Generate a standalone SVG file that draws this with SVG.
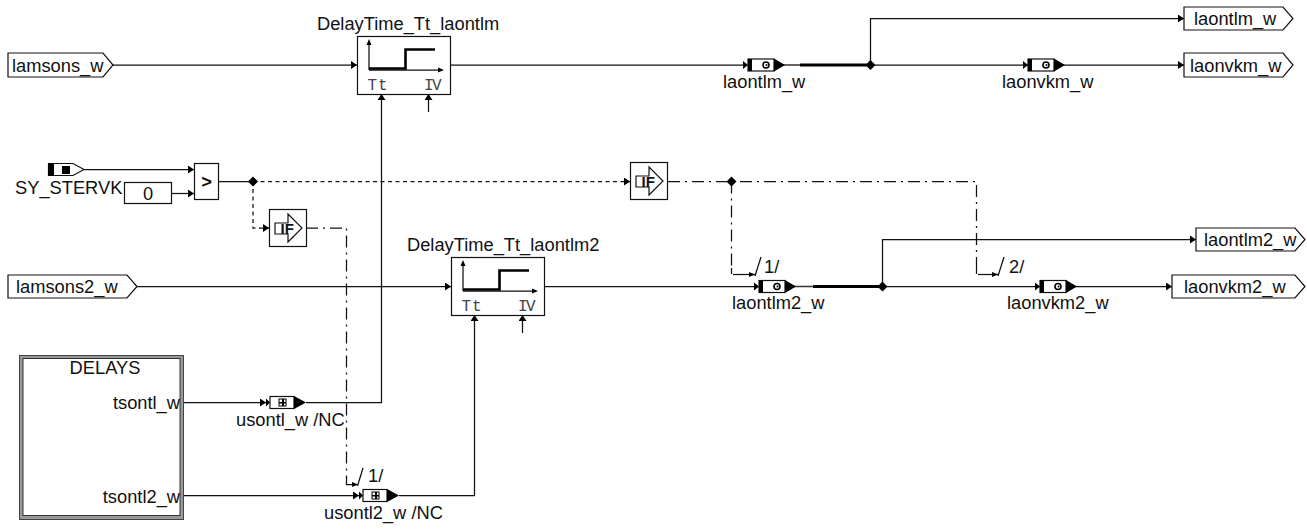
<svg xmlns="http://www.w3.org/2000/svg" width="1307" height="529" viewBox="0 0 1307 529">
<style>
text{font-family:"Liberation Sans",Arial,sans-serif;font-size:18.3px;fill:#111}
.m{font-family:"Liberation Mono",monospace;font-size:16px;fill:#444}
.b{fill:#fff;stroke:#111;stroke-width:1.2}
.l{fill:none;stroke:#111;stroke-width:1.25}
.t{fill:none;stroke:#000;stroke-width:3}
.d{fill:none;stroke:#111;stroke-width:1.25;stroke-dasharray:4 3.500}
.c{fill:none;stroke:#111;stroke-width:1.25;stroke-dasharray:12 5 2 5}
.k{fill:#000;stroke:none}
</style>
<defs>
<marker id="a" markerUnits="userSpaceOnUse" markerWidth="7" markerHeight="8" refX="6" refY="4" orient="auto"><path d="M0,0L6,4L0,8Z" fill="#000"/></marker>
<g id="delay">
<rect class="b" x="0.5" y="0.5" width="93" height="58"/>
<path class="l" d="M12,34V7M12,34H83"/>
<path class="k" d="M12,3l-2.500,6h5zM87,34l-6,-2.500v5z"/>
<path d="M12,32.500H48.500V13.500H78" fill="none" stroke="#000" stroke-width="2.600"/>
<text class="m" x="10.500" y="54">T</text><text class="m" x="21" y="54">t</text>
<text class="m" x="67" y="54">I</text><text class="m" x="75" y="54">V</text>
</g>
<g id="ifb">
<rect class="b" x="0.5" y="0.5" width="37" height="37"/>
<path class="b" d="M6,14H19V5L33,19L19,33V25H6Z"/>
<text x="11.500" y="24.500" style="font-size:15px;font-weight:bold">IF</text>
</g>
<g id="conO">
<path class="k" d="M-5,-4L0,0L-5,4Z"/>
<rect class="b" x="0" y="-6" width="26" height="12"/>
<rect class="k" x="0" y="-6" width="4" height="12"/>
<path class="k" d="M26,-6.500L37,0L26,6.500Z"/>
<circle cx="18" cy="0" r="3" fill="#fff" stroke="#000" stroke-width="1.600"/>
<circle cx="18.500" cy="0" r="1" fill="#000"/>
</g>
<g id="conI">
<path class="k" d="M-4,-4L0,0L-4,4Z"/>
<rect class="b" x="0" y="-6" width="24" height="12"/>
<path class="k" d="M24,-6.500L36,0L24,6.500Z"/>
<rect x="9" y="-3.500" width="7" height="7" fill="#fff" stroke="#000" stroke-width="1"/>
<path class="k" d="M9,-0.500h7v1.500h-7zM12,-3.500h2v7h-2z"/>
</g>
</defs>

<g id="connectors">
<path class="l" marker-end="url(#a)" d="M113,65H357"/>
<path class="l" d="M451,65H743"/>
<path d="M780,65H802" fill="none" stroke="#333" stroke-width="1.500"/><path class="t" d="M800,65H870"/>
<path class="l" d="M870,65H1028"/>
<path class="l" marker-end="url(#a)" d="M1063,65H1184"/>
<path class="l" marker-end="url(#a)" d="M870.500,65V18.500H1184"/>
<path class="l" marker-end="url(#a)" d="M84,169.500H194"/>
<path class="l" marker-end="url(#a)" d="M172,193.500H194"/>
<path class="l" d="M218,181.500H252"/>
<path class="d" marker-end="url(#a)" d="M253,181.500H630"/>
<path class="d" marker-end="url(#a)" d="M253,181.500V228H269"/>
<path class="c" d="M306,228H346.500V478"/>
<path class="l" d="M346.500,478V484.500H357"/><path class="k" d="M358,484.500l-6,-2.500v5z"/>
<path class="l" d="M357.500,486L363,468"/>
<path class="c" d="M668,181.500H976.500V268"/>
<path class="c" d="M731.500,181.500V268"/>
<path class="l" d="M731.500,268V274M976.500,268V274"/>
<path class="l" d="M733,274.500H755"/><path class="k" d="M755,274.500l-6,-2.500v5z"/>
<path class="l" d="M755,276L761,257"/>
<path class="l" d="M978,274.500H998"/><path class="k" d="M998,274.500l-6,-2.500v5z"/>
<path class="l" d="M998,276L1004,257"/>
<path class="l" marker-end="url(#a)" d="M137,286.500H451"/>
<path class="l" d="M545,286.500H755"/>
<path d="M791,286.500H815" fill="none" stroke="#333" stroke-width="1.500"/><path class="t" d="M813,286.500H882"/>
<path class="l" d="M882,286.500H1040"/>
<path class="l" marker-end="url(#a)" d="M1075,286.500H1172"/>
<path class="l" marker-end="url(#a)" d="M882.500,286.500V239.500H1196"/>
<path class="l" marker-end="url(#a)" d="M183,402.500H266"/>
<path class="l" marker-end="url(#a)" d="M306,402.500H381.500V94"/>
<path class="l" marker-end="url(#a)" d="M183,495.500H359"/>
<path class="l" marker-end="url(#a)" d="M399,495.500H474.500V315"/>
<path class="l" marker-end="url(#a)" d="M428.500,112V94"/>
<path class="l" marker-end="url(#a)" d="M522.500,333V315"/>
<path class="k" d="M253,176.500l5,5l-5,5l-5,-5zM870.500,60l5,5l-5,5l-5,-5zM731.500,176.500l5,5l-5,5l-5,-5zM882.500,281.500l5,5l-5,5l-5,-5z"/>
</g>

<g id="in_lamsons_w"><path class="b" d="M8,53H103L113,65L103,77H8Z"/><text x="12" y="72">lamsons_w</text></g>
<g id="in_lamsons2_w"><path class="b" d="M8,275H127L137,286.500L127,298H8Z"/><text x="16" y="293">lamsons2_w</text></g>
<g id="out_laontlm_w"><path class="b" d="M1184,7H1283L1293,18.500L1283,30H1184Z"/><text x="1194" y="25">laontlm_w</text></g>
<g id="out_laonvkm_w"><path class="b" d="M1184,53H1283L1293,65L1283,77H1184Z"/><text x="1190" y="72">laonvkm_w</text></g>
<g id="out_laontlm2_w"><path class="b" d="M1196,228H1295L1305,239.500L1295,251H1196Z"/><text x="1204" y="246">laontlm2_w</text></g>
<g id="out_laonvkm2_w"><path class="b" d="M1172,275H1295L1305,286.500L1295,298H1172Z"/><text x="1184" y="293">laonvkm2_w</text></g>

<g id="DelayTime_Tt_laontlm"><text x="317" y="30">DelayTime_Tt_laontlm</text><use href="#delay" x="357" y="36"/></g>
<g id="DelayTime_Tt_laontlm2"><text x="407" y="251">DelayTime_Tt_laontlm2</text><use href="#delay" x="451" y="257"/></g>

<g id="SY_STERVK"><path class="b" d="M48.500,163.500H73L84,169.500L73,175.500H48.500Z"/><rect class="k" x="48" y="163" width="6" height="13"/><rect class="k" x="62" y="166" width="8" height="8"/><text x="15" y="193.500">SY_STERVK</text></g>
<g id="const_0"><rect class="b" x="124.500" y="182.500" width="47" height="21"/><text x="148" y="200" text-anchor="middle">0</text></g>
<g id="compare"><rect class="b" x="194.500" y="163.500" width="24" height="36"/><text x="206.500" y="188" text-anchor="middle" style="font-weight:bold">&gt;</text></g>
<g id="if_1"><use href="#ifb" x="269" y="209"/></g>
<g id="if_2"><use href="#ifb" x="630" y="162"/></g>
<g id="label_1_a"><text x="764" y="273">1/</text></g>
<g id="label_2"><text x="1009" y="273">2/</text></g>
<g id="label_1_b"><text x="368" y="482">1/</text></g>

<g id="con_laontlm_w"><use href="#conO" x="748" y="65"/><text x="723" y="88">laontlm_w</text></g>
<g id="con_laonvkm_w"><use href="#conO" x="1028" y="65"/><text x="1002" y="88">laonvkm_w</text></g>
<g id="con_laontlm2_w"><use href="#conO" x="759" y="286.500"/><text x="732" y="309">laontlm2_w</text></g>
<g id="con_laonvkm2_w"><use href="#conO" x="1040" y="286.500"/><text x="1007" y="309">laonvkm2_w</text></g>
<g id="con_usontl_w"><use href="#conI" x="270" y="402.500"/><text x="236" y="426">usontl_w /NC</text></g>
<g id="con_usontl2_w"><use href="#conI" x="363" y="495.500"/><text x="324" y="519">usontl2_w /NC</text></g>

<g id="DELAYS">
<rect x="21.500" y="357" width="160" height="160.500" fill="#fff" stroke="#999" stroke-width="3"/>
<rect x="19.500" y="355.500" width="164" height="164" fill="none" stroke="#444" stroke-width="1"/>
<rect x="23" y="358.500" width="157" height="157" fill="none" stroke="#333" stroke-width="1"/>
<text x="105" y="374" text-anchor="middle">DELAYS</text>
<text x="180" y="409" text-anchor="end">tsontl_w</text>
<text x="180" y="503" text-anchor="end">tsontl2_w</text>
</g>
</svg>
